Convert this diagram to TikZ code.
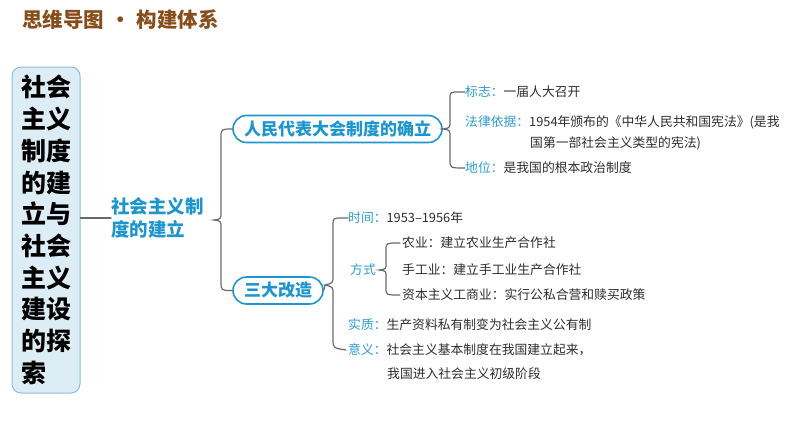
\documentclass[tikz,border=0pt]{standalone}
\usepackage{fontspec}
\newfontfamily\cjk{Noto Sans CJK SC}
\definecolor{titlebrown}{RGB}{135,78,28}
\definecolor{boxfill}{RGB}{221,237,246}
\definecolor{boxline}{RGB}{140,190,212}
\definecolor{nodeblue}{RGB}{30,150,205}
\definecolor{lblue}{RGB}{45,155,205}
\definecolor{hand}{RGB}{45,45,45}
\definecolor{conngray}{RGB}{105,105,105}
\begin{document}
\begin{tikzpicture}[x=1pt,y=-1pt,
  conn/.style={draw=conngray,line width=1.2pt,line cap=round},
  pill/.style={draw=nodeblue,line width=1.6pt,fill=white,rounded corners=13.5pt,text=nodeblue,font=\cjk\bfseries\fontsize{17}{20}\selectfont,inner sep=0pt,minimum height=27pt},
  item/.style={anchor=west,inner sep=0pt,text=hand,font=\cjk\fontsize{12.8}{15}\selectfont},
  lb/.style={text=lblue}]
\useasboundingbox (0,0) rectangle (794,447);
% title
\node[anchor=west,inner sep=0pt,text=titlebrown,font=\cjk\bfseries\fontsize{20.5}{24}\selectfont] (title) at (22,20) {思维导图\hspace{6pt}•\hspace{6pt}构建体系};
% left box
\node[draw=boxline,line width=1pt,fill=boxfill,rounded corners=9pt,minimum width=68pt,minimum height=326pt,inner sep=0pt,
  align=left,font=\cjk\bfseries\fontsize{25}{31.7}\selectfont,text=black] (root) at (46,230)
  {社会\\主义\\制度\\的建\\立与\\社会\\主义\\建设\\的探\\索};
% level 1 label
\node[anchor=west,inner sep=0pt,align=left,text=nodeblue,font=\cjk\bfseries\fontsize{18.5}{23}\selectfont] (l1) at (111,218) {社会主义制\\度的建立};
\draw[conn] (root.east |- l1.west) -- (l1.west);
% level 2 nodes
\node[pill,minimum width=209pt] (n1) at (337.5,129) {人民代表大会制度的确立};
\node[pill,minimum width=90pt] (n2) at (278,290.5) {三大改造};
\coordinate (b1tip) at (214,220);
\draw[conn] (n1.west) .. controls (221,129) .. (221,138) -- (221,212) .. controls (221,219) .. (b1tip)
  .. controls (221,221) .. (221,228) -- (221,281) .. controls (221,290.5) .. (n2.west);
% branch 1 items
\node[item] (a1) at (465,92) {{\color{lblue}标志：}一届人大召开};
\node[item] (a2) at (465,122) {{\color{lblue}法律依据：}1954年颁布的《中华人民共和国宪法》(是我};
\node[item] (a2b) at (530,143) {国第一部社会主义类型的宪法)};
\node[item] (a3) at (465,168) {{\color{lblue}地位：}是我国的根本政治制度};
\draw[conn] (a1.west) -- ++(-6,0) .. controls (450,92) .. (450,99) -- (450,121) .. controls (450,128) .. (n1.east)
  .. controls (450,130) .. (450,137) -- (450,160) .. controls (450,168) .. (a3.west);
% branch 2 items
\node[item] (c1) at (348,218) {{\color{lblue}时间：}1953–1956年};
\node[item,text=lblue] (c2) at (350,270) {方式};
\node[item] (d1) at (402,243) {农业：建立农业生产合作社};
\node[item] (d2) at (402,270) {手工业：建立手工业生产合作社};
\node[item] (d3) at (402,295) {资本主义工商业：实行公私合营和赎买政策};
\node[item] (c3) at (348,325) {{\color{lblue}实质：}生产资料私有制变为社会主义公有制};
\node[item] (c4) at (348,350) {{\color{lblue}意义：}社会主义基本制度在我国建立起来，};
\node[item] (c4b) at (387,374) {我国进入社会主义初级阶段};
\coordinate (b3tip) at (325,285);
\draw[conn] (c1.west) -- ++(-6,0) .. controls (333,218) .. (333,226) -- (333,276) .. controls (333,283) .. (b3tip)
  .. controls (333,287) .. (333,294) -- (333,339) .. controls (333,348) .. ([xshift=-2pt]c4.west);
\draw[conn] (n2.east) -- (b3tip);
\coordinate (b4tip) at (379,270);
\draw[conn] ([xshift=-2pt]d1.west) .. controls (386,243) .. (386,250) -- (386,264) .. controls (386,269) .. (b4tip)
  .. controls (386,271) .. (386,276) -- (386,288) .. controls (386,295) .. ([xshift=-2pt]d3.west);
\end{tikzpicture}
\end{document}
